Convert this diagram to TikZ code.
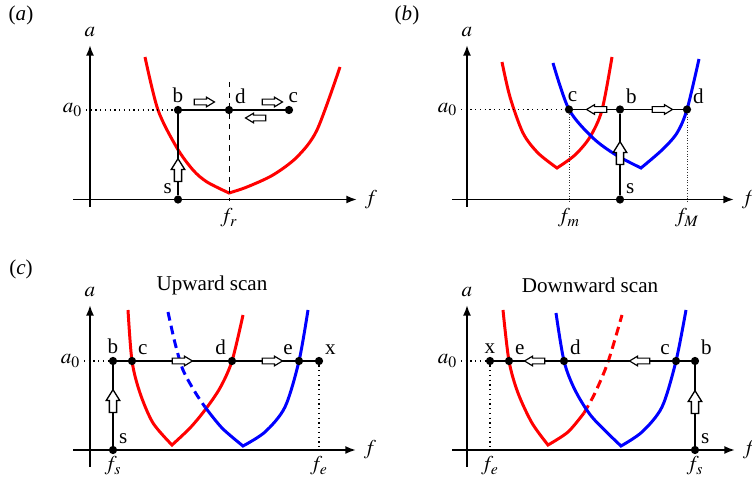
\documentclass[tikz,border=0pt,12pt]{standalone}
\usepackage{mathptmx}
\usepackage{fontspec}
\setmainfont{Liberation Serif}
\usetikzlibrary{arrows.meta, shapes.arrows, backgrounds}
\tikzset{
  axis/.style={-{Latex[length=6pt, width=4.5pt]}, line width=1.1pt},
  scanline/.style={line width=0.9pt},
  guide/.style={dotted, line width=0.7pt},
  fineguide/.style={densely dotted, line width=0.5pt, black!80},
  redc/.style={red, line width=1.7pt},
  bluec/.style={blue, line width=1.7pt},
  brokenc/.style={dash pattern=on 5pt off 3pt},
  dot/.style={circle, fill=black, inner sep=0pt, minimum size=4.7pt, label distance=1.3pt},
  lbl/.style={inner sep=1.5pt},
  hollow/.style={single arrow, draw=black, fill=white, line width=0.65pt, inner sep=1.3pt,
                 minimum height=11.5pt, single arrow head extend=1.1pt, single arrow tip angle=62},
  hollowup/.style={hollow, shape border rotate=90, inner sep=1.7pt, line width=0.75pt,
                   minimum height=13pt, single arrow head extend=1.8pt, single arrow tip angle=64},
  a0lab/.style={anchor=east, inner sep=2pt},
}
\begin{document}
\begin{tikzpicture}[x=0.02cm, y=-0.02cm]
\useasboundingbox (0,0) rectangle (752,479);

% (a)
\node (a-tag) at (21,15) {(\textit{a})};
\coordinate (a-ybot) at (90,207);
\coordinate (a-ytop) at (90,45);
\coordinate (a-xl) at (73,199.5);
\coordinate (a-xr) at (357,199.5);
\draw[axis] (a-ybot) -- (a-ytop) node[above] (a-alab) {$a$};
\draw[axis] (a-xl) -- (a-xr) node[right] (a-flab) {$f$};
\node[a0lab] (a-a0) at (86,110) {$a_0$};
\node[dot, label={[lbl]above:b}] (a-b) at (178,110) {};
\node[dot, label={[lbl]above right:d}] (a-d) at (229,110) {};
\node[dot, label={[lbl, xshift=2.5pt]above:c}] (a-c) at (289,110) {};
\node[dot, label={[lbl]above left:s}] (a-s) at (178,199.5) {};
\coordinate (a-rtop) at (229,82);
\node (a-fr) at (229,218) {$f_r$};
\draw[guide] (a-a0) -- (a-b);
\draw[dashed] (a-rtop) -- (a-fr);
\draw[scanline] (a-s) -- (a-b) -- (a-d) -- (a-c);
\node[hollow] (a-h1) at (202,102) {};
\node[hollow] (a-h2) at (270,102) {};
\node[hollow, shape border rotate=180] (a-h3) at (258,118) {};
\node[hollowup] (a-h4) at (178,173) {};
\begin{scope}[on background layer]
\draw[redc] plot[smooth] coordinates {(145,57) (158,110) (177,148) (193,170) (207,182) (229,193)}
  -- plot[smooth] coordinates {(229,193) (247,187) (273,175) (297,157) (317,130) (340,67)};
\end{scope}

% (b)
\node (b-tag) at (407,15) {(\textit{b})};
\coordinate (b-ybot) at (467,207);
\coordinate (b-ytop) at (467,45);
\coordinate (b-xl) at (452,199.5);
\coordinate (b-xr) at (734,199.5);
\draw[axis] (b-ybot) -- (b-ytop) node[above] (b-alab) {$a$};
\draw[axis] (b-xl) -- (b-xr) node[right] (b-flab) {$f$};
\node[a0lab] (b-a0) at (461,109.5) {$a_0$};
\node[dot, label={[lbl, xshift=2pt]above:c}] (b-c) at (569,109.5) {};
\node[dot, label={[lbl]above right:b}] (b-b) at (620,109.5) {};
\node[dot, label={[lbl]above right:d}] (b-d) at (687,109.5) {};
\node[dot, label={[lbl]above right:s}] (b-s) at (620,199.5) {};
\node (b-fm) at (569,218) {$f_m$};
\node (b-fM) at (687,218) {$f_M$};
\draw[guide] (b-a0) -- (b-c);
\draw[fineguide] (b-c) -- (b-fm);
\draw[fineguide] (b-d) -- (b-fM);
\draw[scanline] (b-s) -- (b-b);
\draw[scanline] (b-c) -- (b-b) -- (b-d);
\node[hollow, shape border rotate=180] (b-h1) at (599,109.5) {};
\node[hollow] (b-h2) at (660,109.5) {};
\node[hollowup] (b-h3) at (620,156) {};
\begin{scope}[on background layer]
\draw[redc] plot[smooth] coordinates {(502,62) (510,97) (523,133) (538,153) (557,168)}
  -- plot[smooth] coordinates {(557,168) (575,155) (590,137) (602,110) (612,57)};
\draw[bluec] plot[smooth] coordinates {(553,63) (b-c.center) (593,138) (616,155) (641,168)}
  -- plot[smooth] coordinates {(641,168) (662,150) (677,133) (b-d.center) (699,59)};
\end{scope}

% (c) upward scan
\node (u-tag) at (21,269) {(\textit{c})};
\node (u-title) at (212,285) {Upward scan};
\coordinate (u-ybot) at (90,467);
\coordinate (u-ytop) at (90,305);
\coordinate (u-xl) at (73,450);
\coordinate (u-xr) at (356,450);
\draw[axis] (u-ybot) -- (u-ytop) node[above] (u-alab) {$a$};
\draw[axis] (u-xl) -- (u-xr) node[right] (u-flab) {$f$};
\node[a0lab] (u-a0) at (84,361) {$a_0$};
\node[dot, label={[lbl]above:b}] (u-b) at (113,361) {};
\node[dot, label={[lbl]above right:c}] (u-c) at (132,361) {};
\node[dot, label={[lbl]above left:d}] (u-d) at (232,361) {};
\node[dot, label={[lbl]above left:e}] (u-e) at (299,361) {};
\node[dot, label={[lbl]above right:x}] (u-x) at (319,361) {};
\node[dot, label={[lbl]above right:s}] (u-s) at (113,450) {};
\node (u-fs) at (113,466) {$f_s$};
\node (u-fe) at (319,466) {$f_e$};
\draw[guide] (u-a0) -- (u-b);
\draw[guide] (u-x) -- (u-fe);
\draw[scanline] (u-s) -- (u-b) -- (u-c) -- (u-d) -- (u-e) -- (u-x);
\node[hollow] (u-h1) at (180,361) {};
\node[hollow] (u-h2) at (270,361) {};
\node[hollowup] (u-h3) at (113,404) {};
\begin{scope}[on background layer]
\draw[redc] plot[smooth] coordinates {(128,310) (u-c.center) (140,393) (153,423) (172,445)}
  -- plot[smooth] coordinates {(172,445) (190,428) (205,410) (220,388) (u-d.center) (243,315)};
\draw[bluec, brokenc] plot[smooth] coordinates {(168,312) (175,343) (183,370) (195,392) (205,407)};
\draw[bluec] plot[smooth] coordinates {(205,407) (222,428) (243,446)}
  -- plot[smooth] coordinates {(243,446) (265,432) (285,407) (u-e.center) (308,310)};
\end{scope}

% (c) downward scan
\node (d-title) at (590,285) {Downward scan};
\coordinate (d-ybot) at (467,467);
\coordinate (d-ytop) at (467,305);
\coordinate (d-xl) at (452,450);
\coordinate (d-xr) at (735,450);
\draw[axis] (d-ybot) -- (d-ytop) node[above] (d-alab) {$a$};
\draw[axis] (d-xl) -- (d-xr) node[right] (d-flab) {$f$};
\node[a0lab] (d-a0) at (461,361) {$a_0$};
\node[dot, label={[lbl]above:x}] (d-x) at (490,361) {};
\node[dot, label={[lbl]above right:e}] (d-e) at (509,361) {};
\node[dot, label={[lbl]above right:d}] (d-d) at (564,361) {};
\node[dot, label={[lbl]above left:c}] (d-c) at (676,361) {};
\node[dot, label={[lbl]above right:b}] (d-b) at (695,361) {};
\node[dot, label={[lbl]above right:s}] (d-s) at (695,450) {};
\node (d-fe) at (490,466) {$f_e$};
\node (d-fs) at (695,466) {$f_s$};
\draw[guide] (d-a0) -- (d-x);
\draw[guide] (d-x) -- (d-fe);
\draw[scanline] (d-s) -- (d-b) -- (d-c) -- (d-d) -- (d-e) -- (d-x);
\node[hollow, shape border rotate=180] (d-h1) at (537,361) {};
\node[hollow, shape border rotate=180] (d-h2) at (642,361) {};
\node[hollowup] (d-h3) at (695,405) {};
\begin{scope}[on background layer]
\draw[redc] plot[smooth] coordinates {(503,310) (d-e.center) (518,393) (532,423) (548,445)}
  -- plot[smooth] coordinates {(548,445) (568,432) (584,413)};
\draw[redc, brokenc] plot[smooth] coordinates {(584,413) (595,393) (608,362) (622,315)};
\draw[bluec] plot[smooth] coordinates {(556,313) (d-d.center) (575,390) (592,417) (621,446)}
  -- plot[smooth] coordinates {(621,446) (642,432) (662,407) (d-c.center) (686,310)};
\end{scope}
\end{tikzpicture}
\end{document}
